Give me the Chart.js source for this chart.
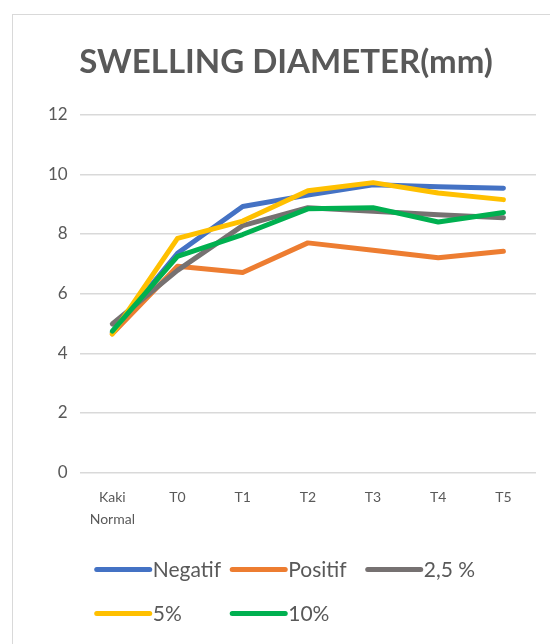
<!DOCTYPE html>
<html>
<head>
<meta charset="utf-8">
<script src="https://cdn.jsdelivr.net/npm/chart.js@4.4.0/dist/chart.umd.min.js"></script>
<style>
  html, body { margin: 0; padding: 0; background: #fff; }
  #wrap { width: 550px; height: 644px; }
</style>
</head>
<body>
<div id="wrap"><canvas id="chart" width="550" height="644"></canvas></div>
<script>
const categories = [['Kaki', 'Normal'], 'T0', 'T1', 'T2', 'T3', 'T4', 'T5'];
const seriesNames = ['Negatif', 'Positif', '2,5 %', '5%', '10%'];
const negatif = [4.70, 7.35, 8.92, 9.30, 9.65, 9.58, 9.53];
const positif = [4.65, 6.92, 6.71, 7.70, 7.45, 7.20, 7.42];
const dosis25 = [4.98, 6.78, 8.28, 8.88, 8.76, 8.64, 8.54];
const dosis5 = [4.65, 7.85, 8.43, 9.45, 9.72, 9.37, 9.15];
const dosis10 = [4.74, 7.25, 7.98, 8.84, 8.88, 8.40, 8.72];
const yTicks = [0, 2, 4, 6, 8, 10, 12];

const colors = ['#4472C4', '#ED7D31', '#767171', '#FFC000', '#00B050'];
const values = [negatif, positif, dosis25, dosis5, dosis10];
const FONT = "Lato, 'Open Sans', sans-serif";
const TEXT = '#595959';

// frame round the chart, like the Excel chart area
const framePlugin = {
  id: 'frame',
  beforeDraw(chart) {
    const ctx = chart.ctx;
    ctx.save();
    ctx.strokeStyle = '#d9d9d9';
    ctx.lineWidth = 1;
    ctx.strokeRect(12.5, 14.5, 700, 700);
    ctx.restore();
  }
};

// legend in fixed columns, Excel style
const legendPlugin = {
  id: 'gridLegend',
  afterDraw(chart) {
    const ctx = chart.ctx;
    const left = chart.chartArea.left + 15;
    const top = chart.chartArea.bottom + 97;
    ctx.save();
    ctx.font = '21px ' + FONT;
    ctx.textBaseline = 'middle';
    chart.data.datasets.forEach((ds, i) => {
      const x = left + (i % 3) * 135.5;
      const y = top + Math.floor(i / 3) * 44;
      ctx.strokeStyle = ds.borderColor;
      ctx.lineWidth = 5;
      ctx.lineCap = 'round';
      ctx.beginPath();
      ctx.moveTo(x + 2, y);
      ctx.lineTo(x + 55, y);
      ctx.stroke();
      ctx.fillStyle = TEXT;
      ctx.fillText(ds.label, x + 58, y + 1);
    });
    ctx.restore();
  }
};

new Chart(document.getElementById('chart'), {
  type: 'line',
  data: {
    labels: categories,
    datasets: values.map((v, i) => ({
      label: seriesNames[i],
      data: v,
      borderColor: colors[i],
      backgroundColor: colors[i],
      borderWidth: 5,
      borderCapStyle: 'round',
      borderJoinStyle: 'round',
      pointRadius: 0,
      tension: 0,
      order: values.length - i
    }))
  },
  options: {
    responsive: false,
    animation: false,
    layout: { padding: { left: 36, right: 14, top: 0, bottom: 108 } },
    plugins: {
      legend: { display: false },
      tooltip: { enabled: false },
      title: {
        display: true,
        text: 'SWELLING DIAMETER(mm)',
        color: TEXT,
        font: { family: FONT, size: 33, weight: 'bold' },
        padding: { top: 43, bottom: 32 }
      }
    },
    scales: {
      x: {
        offset: true,
        grid: { display: false },
        border: { display: false },
        ticks: { color: TEXT, font: { family: FONT, size: 14, lineHeight: 1.55 }, padding: 6, maxRotation: 0 }
      },
      y: {
        min: 0,
        max: 12,
        afterBuildTicks(axis) { axis.ticks = yTicks.map(v => ({ value: v })); },
        grid: { color: '#d9d9d9', lineWidth: 1.5, drawTicks: false },
        border: { display: false },
        ticks: { color: TEXT, font: { family: FONT, size: 17 }, padding: 12 }
      }
    }
  },
  plugins: [framePlugin, legendPlugin]
});
</script>
</body>
</html>
